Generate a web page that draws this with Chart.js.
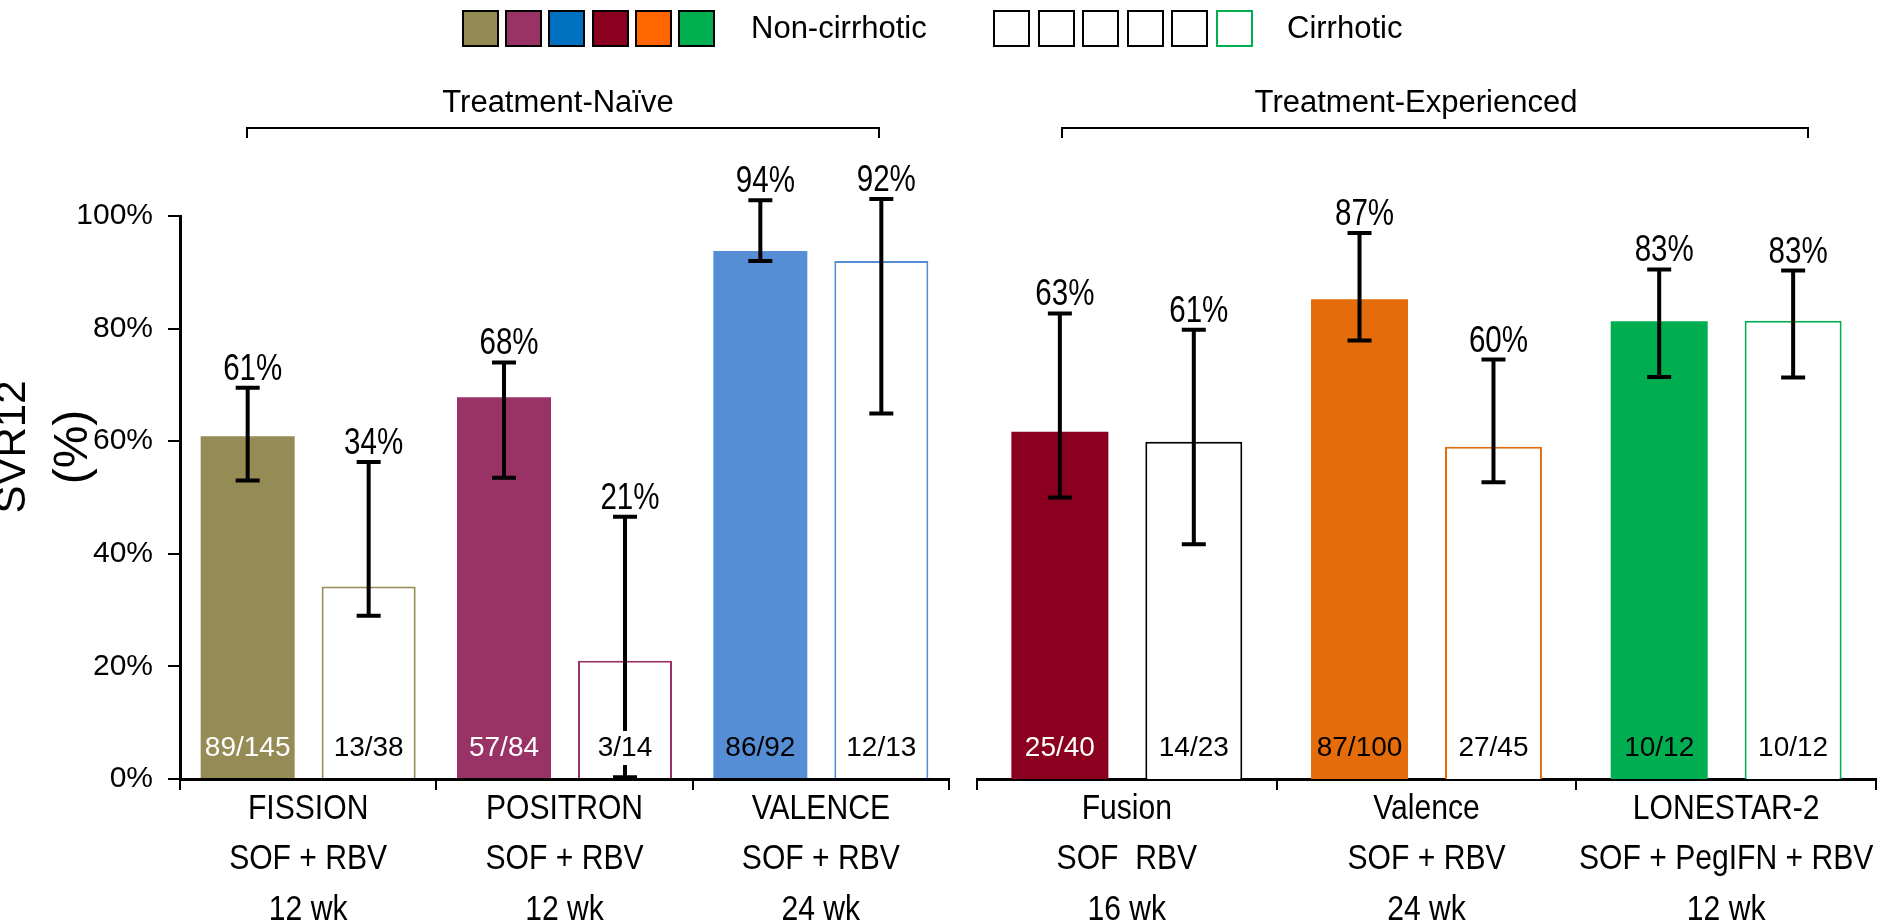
<!DOCTYPE html>
<html>
<head>
<meta charset="utf-8">
<script src="https://cdn.jsdelivr.net/npm/chart.js@4.4.1/dist/chart.umd.min.js"></script>
<style>
  body { margin: 0; background: #fff; }
  #wrap { position: relative; width: 1884px; height: 921px; font-family: 'Liberation Sans', Arial, sans-serif; color: #000; }
  canvas { position: absolute; top: 0; }
  #leftChart { left: 0; }
  #rightChart { left: 960px; }
  .box { position: absolute; top: 10px; width: 37px; height: 37px; box-sizing: border-box; border: 2px solid #000; }
  .txt { position: absolute; font-size: 31px; line-height: 36px; white-space: nowrap; }
  .bracket { position: absolute; top: 127px; height: 11px; box-sizing: border-box; border: 2px solid #000; border-bottom: none; }
</style>
</head>
<body>
<div id="wrap">
  <canvas id="leftChart" width="960" height="921"></canvas>
  <canvas id="rightChart" width="924" height="921"></canvas>
  <div id="legend"></div>
  <div class="txt" style="left:751px; top:10px">Non-cirrhotic</div>
  <div class="txt" style="left:1287px; top:10px">Cirrhotic</div>
  <div class="txt" style="left:358px; width:400px; text-align:center; top:84px">Treatment-Naïve</div>
  <div class="bracket" style="left:246px; width:634px"></div>
  <div class="txt" style="left:1216px; width:400px; text-align:center; top:84px">Treatment-Experienced</div>
  <div class="bracket" style="left:1061px; width:748px"></div>
</div>
<script>
// studies (x categories)
const leftStudies = [['FISSION', 'SOF + RBV', '12 wk'], ['POSITRON', 'SOF + RBV', '12 wk'], ['VALENCE', 'SOF + RBV', '24 wk']];
const rightStudies = [['Fusion', 'SOF  RBV', '16 wk'], ['Valence', 'SOF + RBV', '24 wk'], ['LONESTAR-2', 'SOF + PegIFN + RBV', '12 wk']];

// SVR12 (%) bar heights
const leftNonCirr = [60.9, 67.8, 93.8];
const leftCirr = [34.2, 21.0, 92.0];
const rightNonCirr = [61.7, 85.2, 81.3];
const rightCirr = [59.9, 59.0, 81.4];

// error bars (low / high)
const leftNonCirrLow = [53.0, 53.5, 92.0];
const leftNonCirrHigh = [69.5, 74.0, 102.8];
const leftCirrLow = [29.0, 0.3, 64.9];
const leftCirrHigh = [56.3, 46.6, 103.0];
const rightNonCirrLow = [50.0, 77.9, 71.4];
const rightNonCirrHigh = [82.7, 97.0, 90.5];
const rightCirrLow = [41.7, 52.7, 71.3];
const rightCirrHigh = [79.8, 74.5, 90.3];

// printed labels
const leftNonCirrPct = ['61%', '68%', '94%'];
const leftCirrPct = ['34%', '21%', '92%'];
const rightNonCirrPct = ['63%', '87%', '83%'];
const rightCirrPct = ['61%', '60%', '83%'];
const leftNonCirrN = ['89/145', '57/84', '86/92'];
const leftCirrN = ['13/38', '3/14', '12/13'];
const rightNonCirrN = ['25/40', '87/100', '10/12'];
const rightCirrN = ['14/23', '27/45', '10/12'];

// colours
const leftFill = ['#958b54', '#993366', '#558ed5'];
const rightFill = ['#8a001e', '#e46c0a', '#00ad50'];
const leftOutline = ['#958b54', '#993366', '#558ed5'];
const rightOutline = ['#000000', '#e46c0a', '#00b050'];
const leftCountColor = ['#fff', '#fff', '#000'];
const rightCountColor = ['#fff', '#000', '#000'];
const legendFill = ['#948a54', '#993366', '#0070c0', '#8a001e', '#ff6600', '#00b050'];
const legendOutline = ['#000', '#000', '#000', '#000', '#000', '#00b050'];

const regular = "'Liberation Sans', Arial, sans-serif";

// legend squares
const legend = document.getElementById('legend');
legendFill.forEach((c, i) => {
  const b = document.createElement('div');
  b.className = 'box';
  b.style.left = (462 + 43.2 * i) + 'px';
  b.style.background = c;
  legend.appendChild(b);
});
legendOutline.forEach((c, i) => {
  const b = document.createElement('div');
  b.className = 'box';
  b.style.left = (993 + 44.5 * i) + 'px';
  b.style.borderColor = c;
  legend.appendChild(b);
});

// text squeezed sideways, the original uses a condensed face
function narrowText(ctx, text, x, y, size, squeeze) {
  ctx.save();
  ctx.translate(x, y);
  ctx.scale(squeeze, 1);
  ctx.font = size + 'px ' + regular;
  ctx.fillText(text, 0, 0);
  ctx.restore();
}

// error bars, % above, n/N inside
const barExtras = {
  id: 'barExtras',
  afterDatasetsDraw(chart) {
    const ctx = chart.ctx;
    const y = chart.scales.y;
    const base = y.getPixelForValue(0);
    ctx.save();
    chart.data.datasets.forEach((ds, d) => {
      chart.getDatasetMeta(d).data.forEach((bar, i) => {
        const top = y.getPixelForValue(ds.high[i]);
        const bottom = y.getPixelForValue(ds.low[i]);
        ctx.strokeStyle = '#000';
        ctx.lineWidth = 4;
        ctx.beginPath();
        ctx.moveTo(bar.x, top); ctx.lineTo(bar.x, bottom);
        ctx.moveTo(bar.x - 12, top); ctx.lineTo(bar.x + 12, top);
        ctx.moveTo(bar.x - 12, bottom); ctx.lineTo(bar.x + 12, bottom);
        ctx.stroke();

        ctx.fillStyle = '#000';
        ctx.textAlign = 'center';
        ctx.textBaseline = 'alphabetic';
        narrowText(ctx, ds.pct[i], bar.x + 5, top - 8, 36, 0.82);

        ctx.font = '28px ' + regular;
        ctx.textBaseline = 'middle';
        if (d === 1) {
          const w = ctx.measureText(ds.counts[i]).width;
          ctx.fillStyle = '#fff';
          ctx.fillRect(bar.x - w / 2 - 4, base - 48, w + 8, 34);
        }
        ctx.fillStyle = ds.countColor[i];
        ctx.fillText(ds.counts[i], bar.x, base - 31);
      });
    });
    ctx.restore();
  }
};

// three-line study names under the x axis
const studyLabels = {
  id: 'studyLabels',
  afterDraw(chart) {
    const ctx = chart.ctx;
    const x = chart.scales.x;
    ctx.save();
    ctx.fillStyle = '#000';
    ctx.textAlign = 'center';
    ctx.textBaseline = 'middle';
    chart.data.labels.forEach((lines, i) => {
      lines.forEach((line, j) => {
        narrowText(ctx, line, x.getPixelForTick(i), x.top + 30 + j * 50.5, 35, 0.86);
      });
    });
    ctx.restore();
  }
};

const yTitle = {
  id: 'yTitle',
  afterDraw(chart) {
    const ctx = chart.ctx;
    ctx.save();
    ctx.translate(0, 447);
    ctx.rotate(-Math.PI / 2);
    ctx.fillStyle = '#000';
    ctx.textAlign = 'center';
    ctx.textBaseline = 'middle';
    ctx.font = '42px ' + regular;
    ctx.fillText('SVR12', 0, 13);
    ctx.font = '48px ' + regular;
    ctx.fillText('(%)', 0, 74);
    ctx.restore();
  }
};

function buildChart(id, labels, nc, c, pad, catPct, barPct, showY) {
  const datasets = [
    { label: 'Non-cirrhotic', data: nc.values, backgroundColor: nc.fill, borderWidth: 0,
      low: nc.low, high: nc.high, pct: nc.pct, counts: nc.counts, countColor: nc.countColor,
      categoryPercentage: catPct, barPercentage: barPct },
    { label: 'Cirrhotic', data: c.values, backgroundColor: '#fff', borderColor: c.outline, borderWidth: 2,
      low: c.low, high: c.high, pct: c.pct, counts: c.counts, countColor: c.counts.map(() => '#000'),
      categoryPercentage: catPct, barPercentage: barPct }
  ];
  const yScale = {
    display: showY,
    min: 0,
    max: 100,
    ticks: { stepSize: 20, padding: 15, color: '#000', callback: v => v + '%',
             font: { family: regular, size: 30 } },
    grid: { drawOnChartArea: false, color: '#000', lineWidth: 2, tickLength: 12 },
    border: { color: '#000', width: 3 }
  };
  if (showY) yScale.afterFit = s => { s.width = 180; };
  return new Chart(document.getElementById(id), {
    type: 'bar',
    data: { labels, datasets },
    options: {
      responsive: false,
      animation: false,
      layout: { padding: pad },
      plugins: { legend: { display: false }, tooltip: { enabled: false } },
      scales: {
        x: {
          offset: true,
          grid: { offset: true, drawOnChartArea: false, color: '#000', lineWidth: 2, tickLength: 11 },
          border: { color: '#000', width: 3 },
          ticks: { display: false },
          afterFit: s => { s.height = 142; }
        },
        y: yScale
      }
    },
    plugins: showY ? [barExtras, studyLabels, yTitle] : [barExtras, studyLabels]
  });
}

buildChart('leftChart', leftStudies,
  { values: leftNonCirr, fill: leftFill, low: leftNonCirrLow, high: leftNonCirrHigh, pct: leftNonCirrPct, counts: leftNonCirrN, countColor: leftCountColor },
  { values: leftCirr, outline: leftOutline, low: leftCirrLow, high: leftCirrHigh, pct: leftCirrPct, counts: leftCirrN },
  { top: 216, right: 11, left: 0, bottom: 0 }, 0.944, 0.777, true);

buildChart('rightChart', rightStudies,
  { values: rightNonCirr, fill: rightFill, low: rightNonCirrLow, high: rightNonCirrHigh, pct: rightNonCirrPct, counts: rightNonCirrN, countColor: rightCountColor },
  { values: rightCirr, outline: rightOutline, low: rightCirrLow, high: rightCirrHigh, pct: rightCirrPct, counts: rightCirrN },
  { top: 216, right: 8, left: 17, bottom: 0 }, 0.894, 0.724, false);
</script>
</body>
</html>
